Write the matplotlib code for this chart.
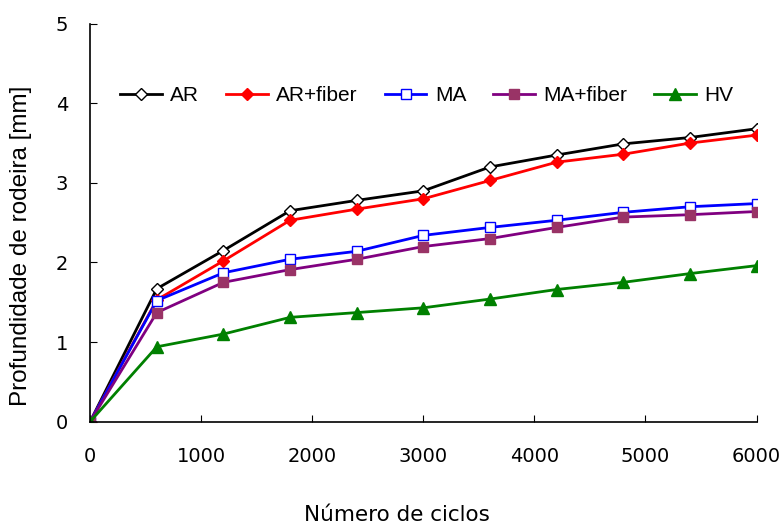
import matplotlib.pyplot as plt

plt.rcParams['font.family'] = ['DejaVu Sans']

# Dados
ciclos = [0, 600, 1200, 1800, 2400, 3000, 3600, 4200, 4800, 5400, 6000]
ar = [0, 1.67, 2.15, 2.65, 2.78, 2.90, 3.20, 3.35, 3.49, 3.57, 3.68]
ar_fiber = [0, 1.53, 2.02, 2.53, 2.67, 2.80, 3.03, 3.26, 3.36, 3.50, 3.60]
ma = [0, 1.52, 1.87, 2.04, 2.14, 2.34, 2.44, 2.53, 2.63, 2.70, 2.74]
ma_fiber = [0, 1.37, 1.75, 1.91, 2.04, 2.20, 2.30, 2.44, 2.57, 2.60, 2.64]
hv = [0, 0.94, 1.10, 1.31, 1.37, 1.43, 1.54, 1.66, 1.75, 1.86, 1.96]

fig = plt.figure(figsize=(7.84, 5.27), dpi=100)
ax = fig.add_axes([0.115, 0.2, 0.85, 0.755])

ax.plot(ciclos, ar, color='black', lw=2, marker='D', ms=6.5,
        mfc='white', mec='black', label='AR')
ax.plot(ciclos, ar_fiber, color='#FF0000', lw=2, marker='D', ms=6.5,
        mfc='#FF0000', mec='#FF0000', label='AR+fiber')
ax.plot(ciclos, ma, color='#0000FF', lw=2, marker='s', ms=7,
        mfc='white', mec='#0000FF', label='MA')
ax.plot(ciclos, ma_fiber, color='#800080', lw=2, marker='s', ms=7,
        mfc='#993366', mec='#993366', label='MA+fiber')
ax.plot(ciclos, hv, color='#008000', lw=2, marker='^', ms=8,
        mfc='#008000', mec='#008000', label='HV')

ax.set_xlim(0, 6000)
ax.set_ylim(0, 5)
ax.set_xticks(range(0, 6001, 1000))
ax.set_yticks(range(0, 6))
ax.tick_params(direction='in', labelsize=14, length=5)
ax.tick_params(axis='x', pad=18)
ax.tick_params(axis='y', pad=16)
ax.spines['top'].set_visible(False)
ax.spines['right'].set_visible(False)
for s in ['left', 'bottom']:
    ax.spines[s].set_linewidth(1.2)

ax.set_xlabel('Número de ciclos', fontsize=15.5)
ax.xaxis.set_label_coords(0.46, -0.21)
ax.set_ylabel('Profundidade de rodeira [mm]', fontsize=17.5,
              family=['Liberation Sans', 'DejaVu Sans'])
ax.yaxis.set_label_coords(-0.087, 0.442)

ax.legend(loc='center', bbox_to_anchor=(0.505, 0.82), ncol=5,
          frameon=False, handlelength=2.0, columnspacing=1.3,
          handletextpad=0.4,
          prop={'family': ['Liberation Sans', 'DejaVu Sans'], 'size': 15})

fig.savefig('out.png')
